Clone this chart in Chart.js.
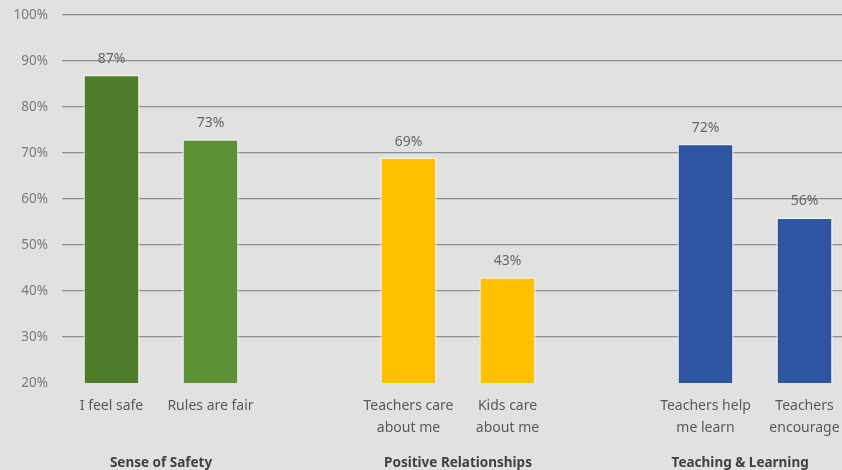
<!DOCTYPE html>
<html>
<head>
<meta charset="utf-8">
<script src="https://cdn.jsdelivr.net/npm/chart.js@4"></script>
<style>
  html, body { margin: 0; padding: 0; background: #e1e1e1; overflow: hidden; }
  #wrap { width: 856px; height: 470px; }
</style>
</head>
<body>
<div id="wrap"><canvas id="c" width="856" height="470"></canvas></div>
<script>
// Categories (empty slots separate the groups)
const categories = [
  'I feel safe', 'Rules are fair', '',
  ['Teachers care', 'about me'], ['Kids care', 'about me'], '',
  ['Teachers help', 'me learn'], ['Teachers', 'encourage']
];
const values = [87, 73, null, 69, 43, null, 72, 56];
const barColors = ['#4f7d2c', '#5b9236', 'rgba(0,0,0,0)', '#ffc000', '#ffc000', 'rgba(0,0,0,0)', '#2e55a0', '#2e55a0'];
const groupNames = ['Sense of Safety', 'Positive Relationships', 'Teaching & Learning'];
const groupCenters = [0.5, 3.5, 6.35];
const yTicks = [20, 30, 40, 50, 60, 70, 80, 90, 100];

const FONT = "'Noto Sans', 'Open Sans', sans-serif";

const valueLabels = {
  id: 'valueLabels',
  afterDatasetsDraw(chart) {
    const ctx = chart.ctx;
    const meta = chart.getDatasetMeta(0);
    ctx.save();
    ctx.font = '14px ' + FONT;
    ctx.fillStyle = '#666666';
    ctx.textAlign = 'center';
    ctx.textBaseline = 'bottom';
    meta.data.forEach((bar, i) => {
      const v = values[i];
      if (v === null || v === undefined) return;
      ctx.fillText(v + '%', bar.x, bar.y - 9);
    });
    ctx.restore();
  }
};

new Chart(document.getElementById('c'), {
  type: 'bar',
  data: {
    labels: categories,
    datasets: [{
      data: values,
      backgroundColor: barColors,
      borderColor: 'rgba(245,248,240,0.75)',
      borderWidth: 1.5,
      barPercentage: 0.57,
      categoryPercentage: 1.0
    }]
  },
  options: {
    responsive: false,
    animation: false,
    layout: { padding: { top: 15, right: 2, left: 0, bottom: 0 } },
    plugins: { legend: { display: false }, tooltip: { enabled: false } },
    scales: {
      x: {
        type: 'category',
        position: 'bottom',
        grid: { display: false },
        border: { display: false },
        ticks: {
          color: '#595959',
          font: { family: FONT, size: 14, lineHeight: 1.55 },
          padding: 4,
          maxRotation: 0,
          autoSkip: false
        },
        afterFit(s) { s.height = 60; }
      },
      x2: {
        type: 'linear',
        position: 'bottom',
        offset: false,
        min: -0.5,
        max: 7.5,
        grid: { display: false, offset: false },
        border: { display: false },
        afterBuildTicks(axis) { axis.ticks = groupCenters.map(v => ({ value: v })); },
        ticks: {
          color: '#404040',
          font: { family: FONT, size: 13.5, weight: 'bold' },
          padding: 4,
          maxRotation: 0,
          autoSkip: false,
          callback(v) {
            const i = groupCenters.indexOf(v);
            return i >= 0 ? groupNames[i] : '';
          }
        },
        afterFit(s) { s.height = 27; }
      },
      y: {
        min: 20,
        max: 100,
        afterBuildTicks(axis) { axis.ticks = yTicks.map(v => ({ value: v })); },
        grid: {
          color: ctx => (ctx.tick && ctx.tick.value === 20) ? 'rgba(0,0,0,0)' : '#8e8e8e',
          lineWidth: 1.2,
          drawTicks: false
        },
        border: { display: false },
        ticks: {
          color: '#7a7a7a',
          font: { family: FONT, size: 13.5 },
          padding: 14,
          callback: v => v + '%'
        },
        afterFit(s) { s.width = 62; s.paddingTop = 0; s.paddingBottom = 0; }
      }
    }
  },
  plugins: [valueLabels]
});
</script>
</body>
</html>
